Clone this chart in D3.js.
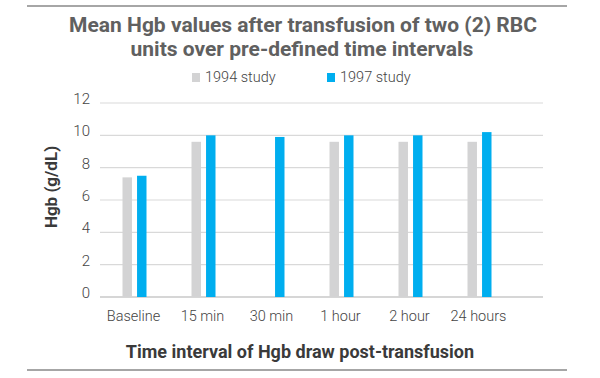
<!DOCTYPE html>
<html>
<head>
<meta charset="utf-8">
<script src="https://cdn.jsdelivr.net/npm/d3@7"></script>
<style>
  body { margin: 0; background: #fff; }
  svg { display: block; font-family: Roboto, "Noto Sans", sans-serif; }
</style>
</head>
<body>
<div id="chart"></div>
<script>
var categories = ["Baseline", "15 min", "30 min", "1 hour", "2 hour", "24 hours"];
var series = ["1994 study", "1997 study"];
var values1994 = [7.4, 9.6, null, 9.6, 9.6, 9.6];
var values1997 = [7.5, 10.0, 9.9, 10.0, 10.0, 10.2];
var yTicks = [0, 2, 4, 6, 8, 10, 12];

var width = 600, height = 378;
var colors = { "1994 study": "#d3d3d4", "1997 study": "#00aeef" };

var svg = d3.select("#chart").append("svg")
  .attr("width", width)
  .attr("height", height);

// top and bottom rules
svg.append("line").attr("x1", 27).attr("x2", 567).attr("y1", 6).attr("y2", 6)
  .attr("stroke", "#a6a6a6").attr("stroke-width", 2);
svg.append("line").attr("x1", 27).attr("x2", 567).attr("y1", 370).attr("y2", 370)
  .attr("stroke", "#a6a6a6").attr("stroke-width", 2);

// title
var title = svg.append("text")
  .attr("text-anchor", "middle")
  .attr("fill", "#606060").attr("font-weight", 700).attr("font-size", 21);
title.append("tspan").attr("x", 303).attr("y", 32).text("Mean Hgb values after transfusion of two (2) RBC");
title.append("tspan").attr("x", 302).attr("y", 56).text("units over pre-defined time intervals");

// legend
var legend = svg.append("g");
var legX = [192, 327];
series.forEach(function (s, i) {
  legend.append("rect").attr("x", legX[i]).attr("y", 73)
    .attr("width", 8).attr("height", 9).attr("fill", colors[s]);
  legend.append("text").attr("x", legX[i] + 13).attr("y", 82)
    .attr("font-size", 14.5).attr("font-weight", 300).attr("fill", "#444")
    .text(s);
});

var y = d3.scaleLinear().domain([0, 12]).range([297, 103]);
var x = d3.scaleBand().domain(categories).range([100, 514]);
var x1 = d3.scaleBand().domain(series).range([-12, 12]).paddingInner(0.35);

// gridlines
svg.append("g").selectAll("line").data(yTicks).enter().append("line")
  .attr("x1", 100).attr("x2", 543)
  .attr("y1", function (d) { return y(d); })
  .attr("y2", function (d) { return y(d); })
  .attr("stroke", function (d) { return d === 0 ? "#c8c8c8" : "#d9d9d9"; })
  .attr("stroke-width", function (d) { return d === 0 ? 1.5 : 1.2; });

// y tick labels
svg.append("g").selectAll("text").data(yTicks).enter().append("text")
  .attr("x", 90).attr("y", function (d) { return y(d) + 1; })
  .attr("text-anchor", "end")
  .attr("font-size", 15).attr("font-weight", 300).attr("fill", "#444")
  .text(function (d) { return d; });

// bars
var rows = [];
categories.forEach(function (c, i) {
  rows.push({ cat: c, s: "1994 study", v: values1994[i] });
  rows.push({ cat: c, s: "1997 study", v: values1997[i] });
});
svg.append("g").selectAll("rect")
  .data(rows.filter(function (d) { return d.v != null; }))
  .enter().append("rect")
  .attr("x", function (d) { return x(d.cat) + x.bandwidth() / 2 + x1(d.s); })
  .attr("width", x1.bandwidth())
  .attr("y", function (d) { return y(d.v); })
  .attr("height", function (d) { return y(0) - y(d.v); })
  .attr("fill", function (d) { return colors[d.s]; });

// x tick labels
svg.append("g").selectAll("text").data(categories).enter().append("text")
  .attr("x", function (d) { return x(d) + x.bandwidth() / 2 - 1; })
  .attr("y", 321)
  .attr("text-anchor", "middle")
  .attr("font-size", 14.5).attr("font-weight", 300).attr("fill", "#444")
  .text(function (d) { return d; });

// axis titles
svg.append("text")
  .attr("x", 300).attr("y", 358)
  .attr("text-anchor", "middle")
  .attr("font-size", 18).attr("font-weight", 700).attr("fill", "#3a3a3a")
  .text("Time interval of Hgb draw post-transfusion");

svg.append("text")
  .attr("transform", "translate(57,187) rotate(-90)")
  .attr("text-anchor", "middle")
  .attr("font-size", 17).attr("font-weight", 700).attr("fill", "#3a3a3a")
  .text("Hgb (g/dL)");
</script>
</body>
</html>
